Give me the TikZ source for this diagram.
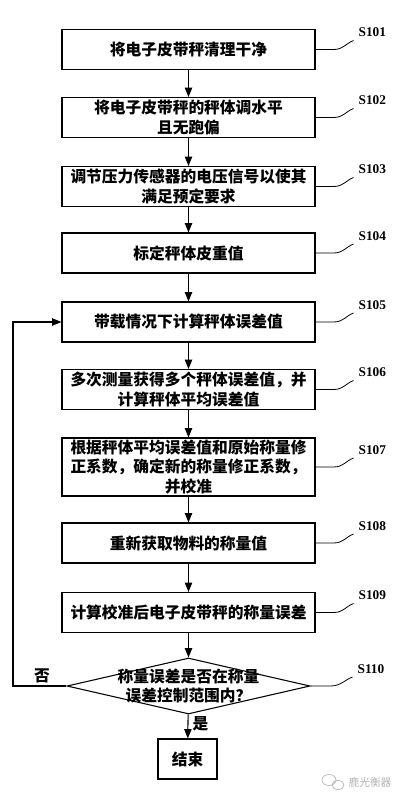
\documentclass[tikz,border=0pt]{standalone}
\usepackage{fontspec}
\setmainfont{Liberation Serif}
\newfontfamily\cjk{Noto Sans CJK SC}
\usetikzlibrary{arrows.meta,shapes.geometric}

\begin{document}
\begin{tikzpicture}[x=0.75pt, y=-0.75pt,
    line width=0.8pt,
    stepbox/.style={draw, minimum width=189.75pt, minimum height=30pt,
      inner sep=0pt, align=center, font=\cjk\bfseries\fontsize{11.8}{14.5}\selectfont},
    arr/.style={-{Triangle[length=7pt,width=5.5pt]}},
    lead/.style={line width=0.6pt},
    tag/.style={anchor=south west, inner sep=0pt, xshift=3.5pt, yshift=2.5pt,
      font=\bfseries\fontsize{10}{11}\selectfont},
    note/.style={inner sep=1pt, font=\cjk\bfseries\fontsize{11.8}{14.5}\selectfont}]
     \useasboundingbox (0,0) rectangle (402,800);
     \node[stepbox] (s101) at (188.5,49.5) {将电子皮带秤清理干净};
     \node[stepbox] (s102) at (188.5,117.5) {将电子皮带秤的秤体调水平\\且无跑偏};
     \node[stepbox] (s103) at (188.5,186.5) {调节压力传感器的电压信号以使其\\满足预定要求};
     \node[stepbox] (s104) at (188.5,253) {标定秤体皮重值};
     \node[stepbox] (s105) at (188.5,322) {带载情况下计算秤体误差值};
     \node[stepbox] (s106) at (188.5,389.5) {多次测量获得多个秤体误差值，并\\计算秤体平均误差值};
     \node[stepbox, minimum height=43.5pt] (s107) at (188.5,467)
       {根据秤体平均误差值和原始称量修\\正系数，确定新的称量修正系数，\\并校准};
     \node[stepbox] (s108) at (188.5,543) {重新获取物料的称量值};
     \node[stepbox] (s109) at (188.5,612.5) {计算校准后电子皮带秤的称量误差};
     \node[diamond, draw, minimum width=182.25pt, minimum height=42pt,
       inner sep=0pt] (s110) at (188.5,686) {};
     \node[note, align=center] (s110t) at (s110) {称量误差是否在称量\\误差控制范围内？};
     \node[stepbox, minimum width=44.25pt] (stop) at (187.5,759) {结束};
     \draw[arr] (s101) -- (s102);
     \draw[arr] (s102) -- (s103);
     \draw[arr] (s103) -- (s104);
     \draw[arr] (s104) -- (s105);
     \draw[arr] (s105) -- (s106);
     \draw[arr] (s106) -- (s107);
     \draw[arr] (s107) -- (s108);
     \draw[arr] (s108) -- (s109);
     \draw[arr] (s109) -- (s110);
     \draw[arr] (s110) -- node[note, right, pos=0.4, xshift=2pt] (yes) {是} (stop);
     \coordinate (back) at (13,686);
     \draw[arr] (s110.west) -- (back) |- (s105.west);
     \node[note] (no) at (42,676) {否};
     \draw[lead] (s101.east) -- ++(18,0) .. controls +(10,0) and +(-8,3) .. ++(20,-9) node[tag] {S101};
     \draw[lead] (s102.east) -- ++(18,0) .. controls +(10,0) and +(-8,3) .. ++(20,-9) node[tag] {S102};
     \draw[lead] (s103.east) -- ++(18,0) .. controls +(10,0) and +(-8,3) .. ++(20,-9) node[tag] {S103};
     \draw[lead] (s104.east) -- ++(18,0) .. controls +(10,0) and +(-8,3) .. ++(20,-9) node[tag] {S104};
     \draw[lead] (s105.east) -- ++(18,0) .. controls +(10,0) and +(-8,3) .. ++(20,-9) node[tag] {S105};
     \draw[lead] (s106.east) -- ++(18,0) .. controls +(10,0) and +(-8,3) .. ++(20,-9) node[tag] {S106};
     \draw[lead] (s107.east) -- ++(18,0) .. controls +(10,0) and +(-8,3) .. ++(20,-9) node[tag] {S107};
     \draw[lead] (s108.east) -- ++(18,0) .. controls +(10,0) and +(-8,3) .. ++(20,-9) node[tag] {S108};
     \draw[lead] (s109.east) -- ++(18,0) .. controls +(10,0) and +(-8,3) .. ++(20,-9) node[tag] {S109};
     \draw[lead] (s110.east) -- ++(20,0) .. controls +(10,0) and +(-8,3) .. ++(22,-9) node[tag] {S110};
     \draw[gray!60, line width=0.5pt] (329,780) ellipse (7 and 5.5) (338,785) ellipse (6 and 4.5);
     \node[text=gray!60, inner sep=0pt, font=\cjk\fontsize{8}{9}\selectfont] (wm) at (370,782) {鹿光衡器};
    \end{tikzpicture}
\end{document}
